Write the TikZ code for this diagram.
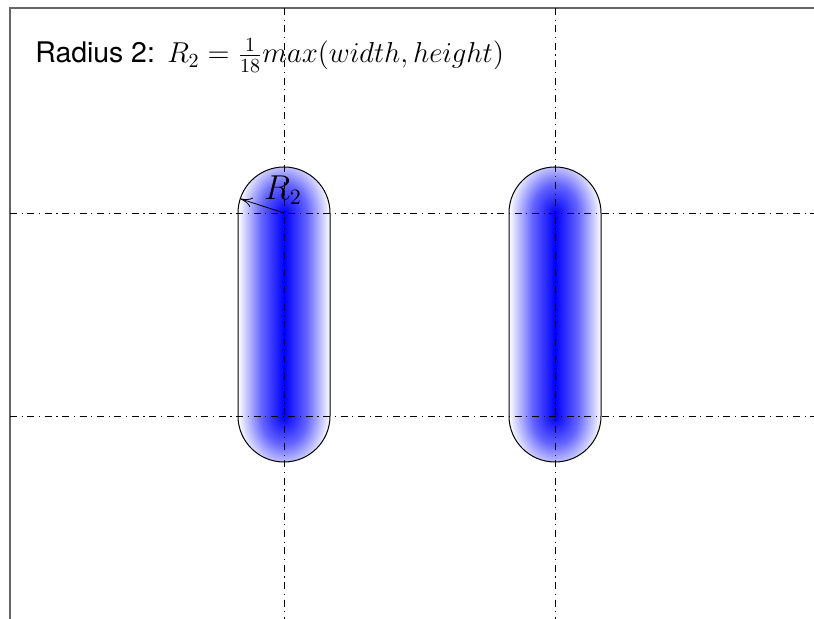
\documentclass[tikz,border=0pt]{standalone}
\usepackage{fontspec}
\newfontfamily\helv{TeX Gyre Heros}
\usetikzlibrary{arrows.meta,calc}
\pgfdeclarehorizontalshading{capsuleh}{100bp}{color(0bp)=(white); color(25bp)=(white!100!blue); color(37.5bp)=(blue!60); color(50bp)=(blue); color(62.5bp)=(blue!60); color(75bp)=(white); color(100bp)=(white)}
\pgfdeclareradialshading{capsuler}{\pgfpoint{0bp}{0bp}}{color(0bp)=(blue); color(12.5bp)=(blue!60); color(25bp)=(white); color(50bp)=(white)}
\tikzset{
  px/.style={x=0.5pt,y=-0.5pt},
  frameline/.style={draw=black!60,line width=0.65pt},
  centerline/.style={draw=black,line width=0.45pt,dash pattern=on 3.5pt off 2.3pt on 0.6pt off 2.3pt},
  capsule/.style={draw=black,line width=0.5pt},
}
\begin{document}
\begin{tikzpicture}[px]
\useasboundingbox (0,0) rectangle (814,619);
% frame
\draw[frameline] (10,619) -- (10,8) -- (814,8);
% centers
\coordinate (a1) at (284,213);
\coordinate (a2) at (284,416);
\coordinate (b1) at (555,213);
\coordinate (b2) at (555,416);
% capsules
\foreach \c/\x in {a/284,b/555}{
  \begin{scope}
    \clip (\x-46,213) arc[start angle=180,end angle=0,radius=23pt] -- (\x+46,416) arc[start angle=0,end angle=-180,radius=23pt] -- cycle;
    \shade[shading=capsuler] (\c1) ellipse[x radius=23pt,y radius=29pt];
    \shade[shading=capsuler] (\c2) ellipse[x radius=23pt,y radius=29pt];
    \shade[shading=capsuleh] (\x-46,213) rectangle (\x+46,416);
  \end{scope}
  \draw[capsule] (\x-46,213) arc[start angle=180,end angle=0,radius=23pt] -- (\x+46,416) arc[start angle=0,end angle=-180,radius=23pt] -- cycle;
}
% center lines
\draw[centerline] (284,8) -- (284,619);
\draw[centerline] (555,8) -- (555,619);
\draw[centerline] (10,213) -- (814,213);
\draw[centerline] (10,416) -- (814,416);
% radius
\coordinate (r) at ($(a1)+(162:23pt)$);
\draw[line width=0.4pt,-{To[length=6pt,width=5pt]}] (a1) -- (r);
\node[inner sep=0pt,font=\fontsize{16}{18}\selectfont] (rl) at (283,190) {$R_2$};
% title
\node[anchor=base west,inner sep=0pt,font=\fontsize{14.2}{17}\selectfont] (title) at (35,63)
  {{\helv Radius 2:} $R_2=\frac{1}{18}max(width,height)$};
\end{tikzpicture}
\end{document}
